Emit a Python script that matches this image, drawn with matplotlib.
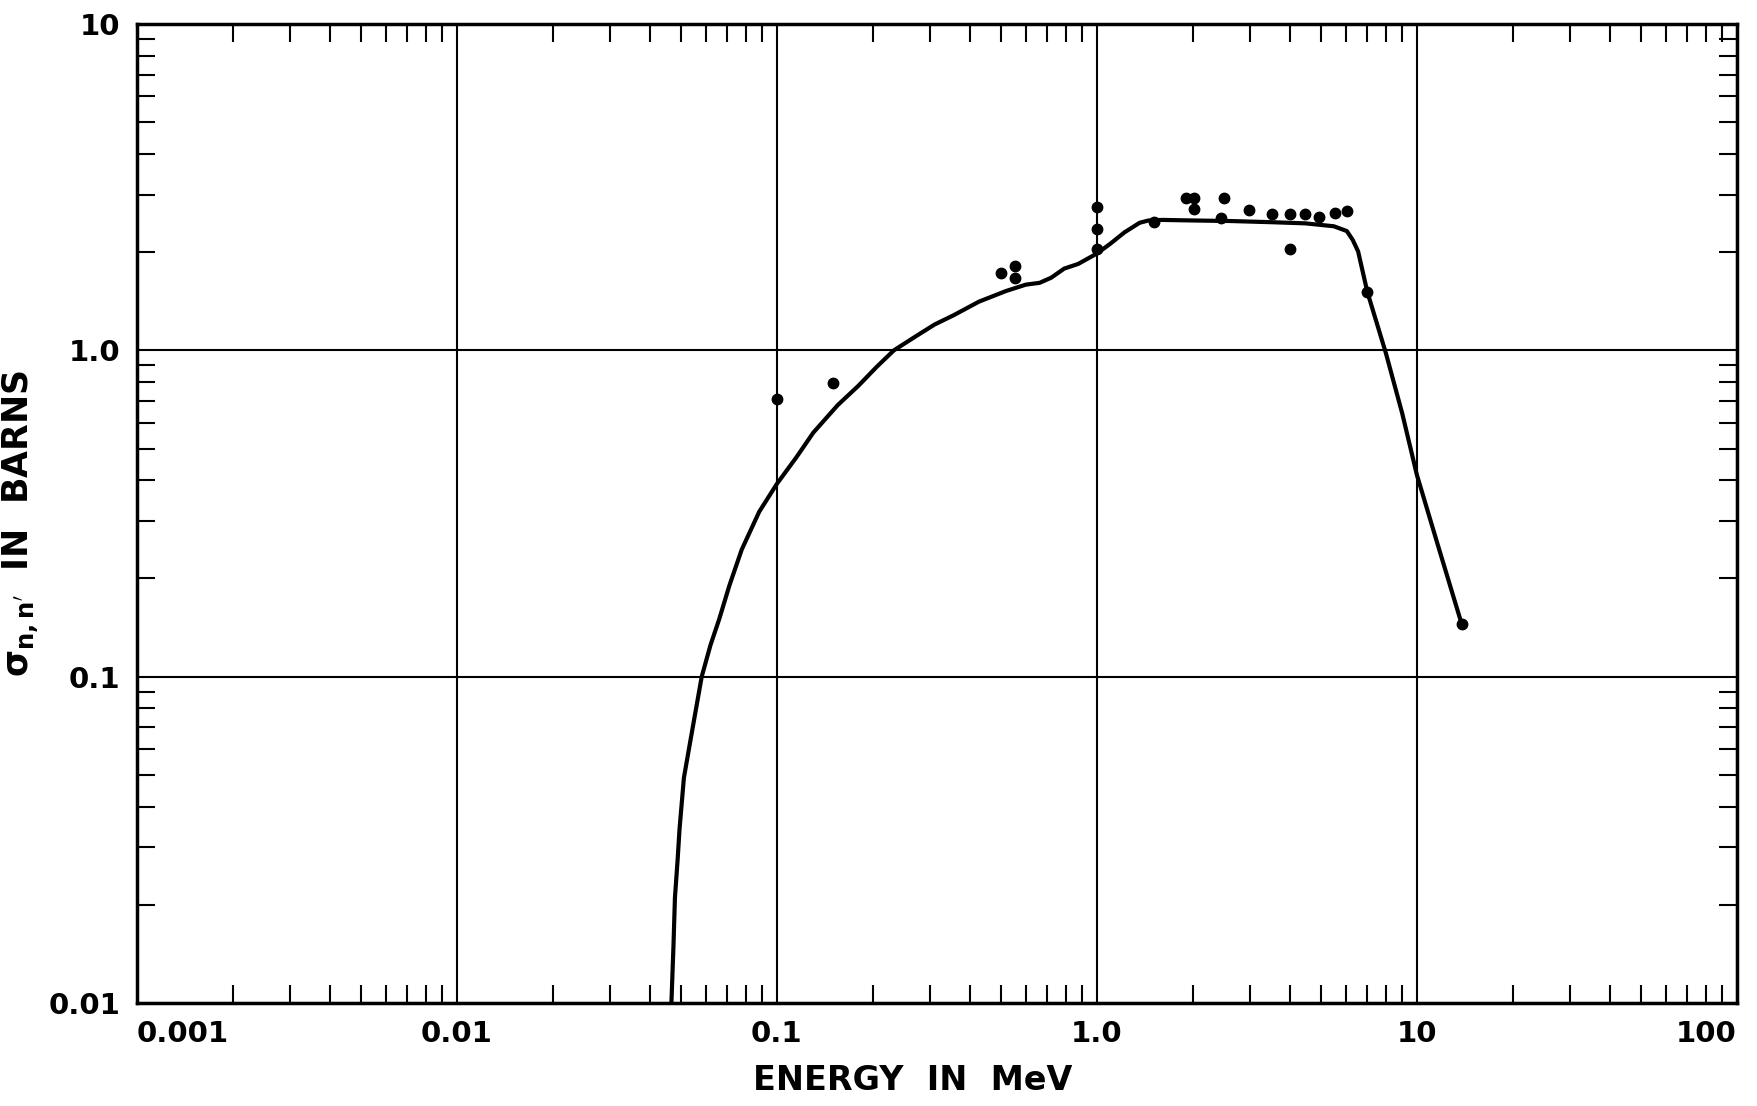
import matplotlib
matplotlib.use("Agg")
import matplotlib.pyplot as plt
from matplotlib.ticker import LogLocator, FixedLocator, NullFormatter

# Evaluated curve (energy in MeV, cross section in barns)
curve_E = [0.0468, 0.0475, 0.048, 0.049, 0.0496, 0.0512, 0.0537, 0.0582, 0.062,
           0.066, 0.071, 0.0776, 0.088, 0.1, 0.115, 0.13, 0.155, 0.18, 0.205,
           0.232, 0.27, 0.311, 0.356, 0.428, 0.52, 0.6, 0.662, 0.72, 0.79, 0.874,
           1.0, 1.1, 1.22, 1.36, 1.45, 1.6, 2.0, 2.63, 3.5, 4.48, 5.5, 6.04, 6.3,
           6.55, 7.0, 8.0, 9.0, 10.0, 11.6, 13.8]
curve_sigma = [0.01, 0.015, 0.021, 0.028, 0.034, 0.049, 0.064, 0.10, 0.125,
               0.15, 0.19, 0.245, 0.32, 0.39, 0.47, 0.56, 0.68, 0.78, 0.89,
               1.0, 1.1, 1.2, 1.28, 1.41, 1.52, 1.59, 1.61, 1.67, 1.78, 1.84,
               1.98, 2.12, 2.30, 2.46, 2.50, 2.51, 2.50, 2.49, 2.47, 2.45, 2.40, 2.32, 2.18,
               2.01, 1.51, 0.98, 0.64, 0.415, 0.255, 0.145]

# Measured points
pts_E = [0.1, 0.15, 0.50, 0.555, 0.555, 1.0, 1.0, 1.0, 1.51, 1.90, 2.01, 2.01,
         2.44, 2.50, 2.99, 3.53, 4.02, 4.02, 4.47, 4.96, 5.55, 6.04, 7.0, 13.8]
pts_sigma = [0.71, 0.795, 1.73, 1.81, 1.67, 2.75, 2.35, 2.05, 2.48, 2.94, 2.94, 2.72,
             2.55, 2.94, 2.69, 2.61, 2.61, 2.04, 2.61, 2.57, 2.63, 2.67, 1.51, 0.145]

xticks = [0.001, 0.01, 0.1, 1.0, 10, 100]
xticklabels = ["0.001", "0.01", "0.1", "1.0", "10", "100"]
yticks = [0.01, 0.1, 1.0, 10]
yticklabels = ["0.01", "0.1", "1.0", "10"]

plt.rcParams['font.family'] = ['DejaVu Sans']
fig = plt.figure(figsize=(17.58, 11.06), dpi=100)
ax = fig.add_axes([0.0779, 0.0931, 0.9101, 0.8852])
ax.set_xscale('log')
ax.set_yscale('log')
ax.set_xlim(0.001, 100)
ax.set_ylim(0.01, 10)

ax.plot(curve_E, curve_sigma, color='black', lw=3.0, solid_joinstyle='round',
        solid_capstyle='round', zorder=3)
ax.plot(pts_E, pts_sigma, 'o', color='black', ms=7.5, zorder=4)

ax.xaxis.set_major_locator(FixedLocator(xticks))
ax.yaxis.set_major_locator(FixedLocator(yticks))
ax.xaxis.set_minor_locator(LogLocator(base=10, subs=range(2, 10), numticks=20))
ax.yaxis.set_minor_locator(LogLocator(base=10, subs=range(2, 10), numticks=20))
ax.xaxis.set_minor_formatter(NullFormatter())
ax.yaxis.set_minor_formatter(NullFormatter())
ax.set_xticklabels(xticklabels)
ax.set_yticklabels(yticklabels)

ax.grid(True, which='major', color='black', lw=1.5)
ax.tick_params(which='major', length=0, labelsize=21, pad=12)
ax.tick_params(which='minor', direction='in', length=13, width=1.5,
               top=True, right=True, bottom=True, left=True)
for lab in ax.get_xticklabels() + ax.get_yticklabels():
    lab.set_fontweight('bold')
xl = ax.get_xticklabels()
xl[0].set_horizontalalignment('left')
xl[-1].set_horizontalalignment('right')

for s in ax.spines.values():
    s.set_linewidth(2.5)

ax.set_xlabel("ENERGY  IN  MeV", fontsize=24, fontweight='bold', labelpad=14)
ax.xaxis.set_label_coords(0.485, -0.062)
ax.set_ylabel(r"$\mathbf{\sigma_{n,n'}}$  IN  BARNS", fontsize=25, fontweight='bold', labelpad=20)
ax.yaxis.set_label_coords(-0.06, 0.49)

fig.savefig("out.png", dpi=100, facecolor='white')
